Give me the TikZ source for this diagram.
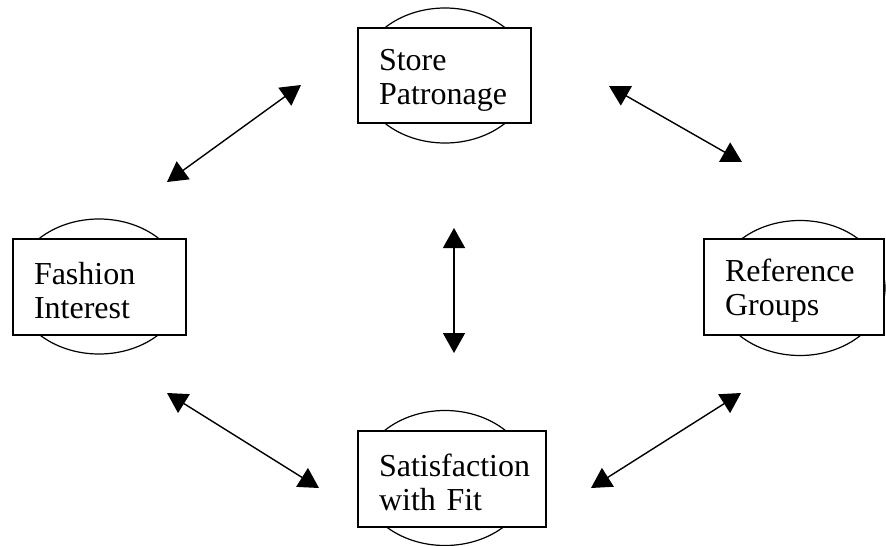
\documentclass[tikz,border=0pt]{standalone}
\usepackage{fontspec}
\setmainfont{Liberation Serif}
\usepackage{tikz}
\usetikzlibrary{arrows.meta, shapes.geometric}

\begin{document}
\begin{tikzpicture}[x=1pt, y=-1pt,
      oval/.style={ellipse, draw, line width=1.2pt, minimum width=170pt, minimum height=135pt, inner sep=0pt},
      box/.style={rectangle, draw, fill=white, line width=1.3pt, inner xsep=21pt, inner ysep=0pt,
                  align=left, font=\fontsize{32}{34}\selectfont,
                  execute at begin node={\rule{0pt}{30pt}}},
      link/.style={{Triangle[length=20pt, width=22pt]}-{Triangle[length=20pt, width=22pt]}, line width=1.4pt}]
    \useasboundingbox (0,0) rectangle (886,546);
    % ovals behind the boxes
    \node[oval] (storeOval) at (445,75.5) {};
    \node[oval] (fashionOval) at (99,286.5) {};
    \node[oval] (refOval) at (800,288) {};
    \node[oval] (fitOval) at (445,478) {};
    % boxes
    \node[box, text width=131pt, minimum height=95pt] (store) at (444.5,75.5) {Store\\Patronage};
    \node[box, text width=131pt, minimum height=96pt] (fashion) at (99.5,287) {Fashion\\Interest};
    \node[box, text width=138pt, minimum height=96pt] (ref) at (794,287) {Reference\\Groups};
    \node[box, text width=146pt, minimum height=96pt] (fit) at (452,479) {Satisfaction\\with Fit};
    % arrow ends
    \coordinate (fs1) at (167,182);
    \coordinate (fs2) at (301,85);
    \coordinate (sr1) at (609,86);
    \coordinate (sr2) at (742,162);
    \coordinate (mid1) at (454,228);
    \coordinate (mid2) at (454,353);
    \coordinate (ff1) at (167,393);
    \coordinate (ff2) at (319,488);
    \coordinate (rf1) at (741,393);
    \coordinate (rf2) at (591,488);
    \draw[link] (fs1) -- (fs2);
    \draw[link] (sr1) -- (sr2);
    \draw[link] (mid1) -- (mid2);
    \draw[link] (ff1) -- (ff2);
    \draw[link] (rf1) -- (rf2);
\end{tikzpicture}
\end{document}
